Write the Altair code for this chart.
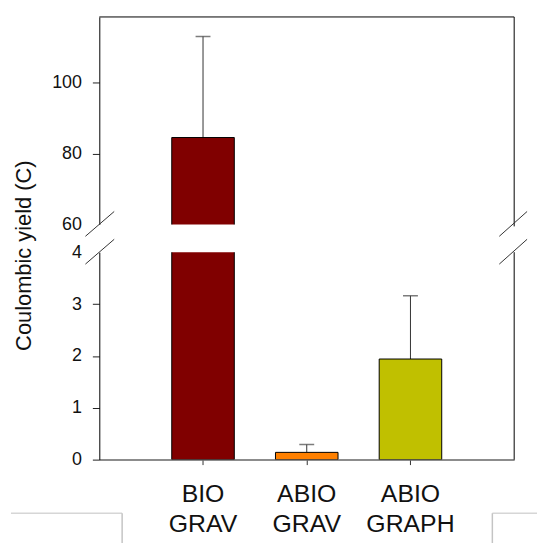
import altair as alt
import pandas as pd

categories = ["BIO GRAV", "ABIO GRAV", "ABIO GRAPH"]
means = [84.5, 0.14, 1.94]
errors = [28.5, 0.15, 1.22]
colors = ["#800000", "#FF8000", "#C0C000"]
upper_ticks = [60, 80, 100]
lower_ticks = [0, 1, 2, 3, 4]
upper_domain = [60, 118.5]
lower_domain = [0, 4]

df = pd.DataFrame({"cat": categories, "mean": means, "err": errors, "color": colors})
df["top"] = df["mean"] + df["err"]
df["zero"] = 0

W = 418
H_UP = 209
H_LO = 209
FONT = "Liberation Sans"
one = alt.Data(values=[{}])

xscale = alt.Scale(domain=categories, paddingInner=0.397, paddingOuter=0.6985)


def deco_rule(x, x2, y, y2, color="black", width=1):
    return alt.Chart(one).mark_rule(color=color, strokeWidth=width).encode(
        x=alt.value(x), x2=alt.value(x2), y=alt.value(y), y2=alt.value(y2)
    )


def panel(domain, ticks, height, lower):
    if lower:
        xaxis = alt.Axis(
            title=None, labelAngle=0, labelExpr="split(datum.label, ' ')",
            labelFontSize=25, labelLineHeight=30, labelPadding=17,
            labelBaseline="top", labelColor="#111", labelFont=FONT,
            tickSize=5, tickColor="#333", domainColor="#666", domainWidth=1.5,
        )
        yaxis = alt.Axis(
            values=ticks, title="Coulombic yield (C)", titleFontSize=22,
            titleFont=FONT, titleFontWeight="normal", titleColor="#111",
            titleX=-64, titleY=3, titleAlign="center", titleBaseline="bottom",
            tickOpacity={"condition": {"test": "datum.value == 4", "value": 0}, "value": 1},
        )
    else:
        xaxis = None
        yaxis = alt.Axis(
            values=ticks, title=None,
            tickOpacity={"condition": {"test": "datum.value == 60", "value": 0}, "value": 1},
        )
    yscale = alt.Scale(domain=domain, nice=False, zero=False)
    xenc = alt.X("cat:N", scale=xscale, sort=categories, axis=xaxis, title=None)
    base = alt.Chart(df)
    err = base.mark_rule(clip=True, color="#333", strokeWidth=1).encode(
        x=xenc, y=alt.Y("mean:Q", scale=yscale, axis=yaxis), y2="top:Q"
    )
    cap = base.mark_tick(clip=True, color="#444", size=15, thickness=1.5).encode(
        x=xenc, y=alt.Y("top:Q", scale=yscale, axis=yaxis)
    )
    bars = base.mark_bar(clip=True, stroke="black", strokeWidth=1).encode(
        x=xenc,
        y=alt.Y("mean:Q", scale=yscale, axis=yaxis),
        y2="zero:Q",
        color=alt.Color("color:N", scale=None),
    )
    layers = [err, cap, bars]
    if lower:
        layers += [
            deco_rule(W, W, 0, height),
            deco_rule(-14, 15, 12, -13, "#333"),
            deco_rule(403, 431, 12, -13, "#333"),
            # light page-border lines below the chart
            deco_rule(-89, 23, 263, 263, "#d6d6d6", 1.5),
            deco_rule(23, 23, 263, 293, "#c4c4c4", 1.5),
            deco_rule(396, 441, 263, 263, "#d6d6d6", 1.5),
            deco_rule(396, 396, 263, 293, "#c4c4c4", 1.5),
        ]
    else:
        layers += [
            deco_rule(0, W, 0, 0),
            deco_rule(W, W, 0, height + 2),
            deco_rule(-14, 15, height + 12, height - 13, "#333"),
            deco_rule(403, 431, height + 12, height - 13, "#333"),
        ]
    return alt.layer(*layers).properties(width=W, height=height)


upper = panel(upper_domain, upper_ticks, H_UP, False)
lower = panel(lower_domain, lower_ticks, H_LO, True)

chart = (
    alt.vconcat(upper, lower, spacing=28, bounds="flush")
    .properties(padding={"left": 2, "top": 6, "right": 0, "bottom": 0})
    .configure_view(stroke=None)
    .configure_axis(
        labelFont=FONT, labelFontSize=18, labelColor="#111",
        tickSize=7, tickColor="#222", labelPadding=11,
        domainColor="black", domainWidth=1, grid=False,
    )
)

chart.save("out.html", embed_options={"renderer": "svg", "actions": False})
